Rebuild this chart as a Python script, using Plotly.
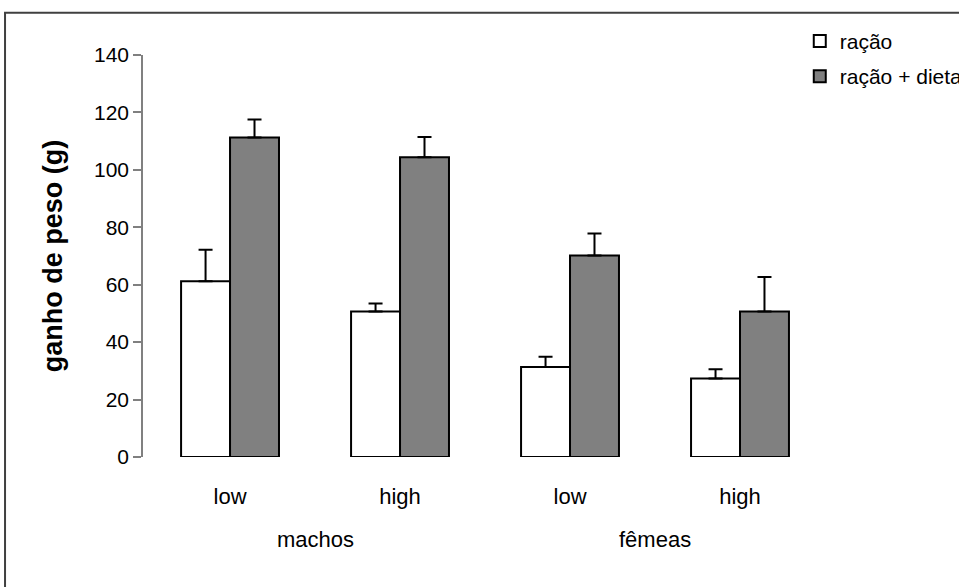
import plotly.graph_objects as go

x_pos = [0, 1, 2, 3]
tick_labels = ["low", "high", "low", "high"]
group_labels = ["machos", "fêmeas"]
group_centers = [0.5, 2.5]

series_names = ["ração", "ração + dieta"]
racao = [61.2, 50.7, 31.3, 27.3]
racao_err = [11.0, 2.8, 3.6, 3.3]
dieta = [111.3, 104.4, 70.2, 50.7]
dieta_err = [6.2, 7.0, 7.6, 12.0]

FONT = "Liberation Sans, Arial, sans-serif"

fig = go.Figure()
fig.add_trace(go.Bar(
    x=x_pos, y=racao, name=series_names[0], legendgroup="a",
    marker=dict(color="white", line=dict(color="black", width=2)),
    error_y=dict(type="data", symmetric=False, array=racao_err,
                 arrayminus=[0] * 4, color="black", thickness=2, width=7),
))
fig.add_trace(go.Bar(
    x=x_pos, y=dieta, name=series_names[1], legendgroup="b",
    marker=dict(color="#808080", line=dict(color="black", width=2)),
    error_y=dict(type="data", symmetric=False, array=dieta_err,
                 arrayminus=[0] * 4, color="black", thickness=2, width=7),
))

annotations = []
for lab, xc in zip(group_labels, group_centers):
    annotations.append(dict(x=xc, xref="x", y=-0.206, yref="paper",
                            xanchor="center", yanchor="middle",
                            text=lab, showarrow=False,
                            font=dict(family=FONT, size=22, color="black")))

fig.update_layout(
    width=959, height=587,
    margin=dict(l=143, r=134, t=55, b=130, autoexpand=False),
    paper_bgcolor="white", plot_bgcolor="white",
    barmode="group", bargap=0.424, bargroupgap=0,
    font=dict(family=FONT, size=22, color="black"),
    showlegend=True,
    legend=dict(x=0.963, xref="paper", y=1.085, xanchor="left", yanchor="top",
                font=dict(family=FONT, size=21, color="black"),
                tracegroupgap=5, bgcolor="rgba(0,0,0,0)"),
    xaxis=dict(range=[-0.512, 3.5], tickvals=x_pos, ticktext=tick_labels,
               showline=False, showgrid=False, zeroline=False,
               ticks="", ticklabelstandoff=24,
               tickfont=dict(family=FONT, size=22, color="black")),
    yaxis=dict(range=[0, 140], dtick=20, tick0=0,
               showline=True, linecolor="#808080", linewidth=1.5,
               ticks="outside", ticklen=8, tickcolor="#808080", tickwidth=1.5,
               showgrid=False, zeroline=False,
               tickfont=dict(family=FONT, size=21, color="black"),
               title=dict(text="<b>ganho de peso (g)</b>", standoff=24,
                          font=dict(family=FONT, size=27, color="black"))),
    annotations=annotations,
    shapes=[dict(type="rect", xref="paper", yref="paper",
                 x0=-0.2023, y0=-0.4, x1=1.4, y1=1.105,
                 line=dict(color="#404040", width=2), layer="above")],
)

fig.write_html("out.html", config={"displayModeBar": False},
               post_script="document.body.style.margin='0px';")
